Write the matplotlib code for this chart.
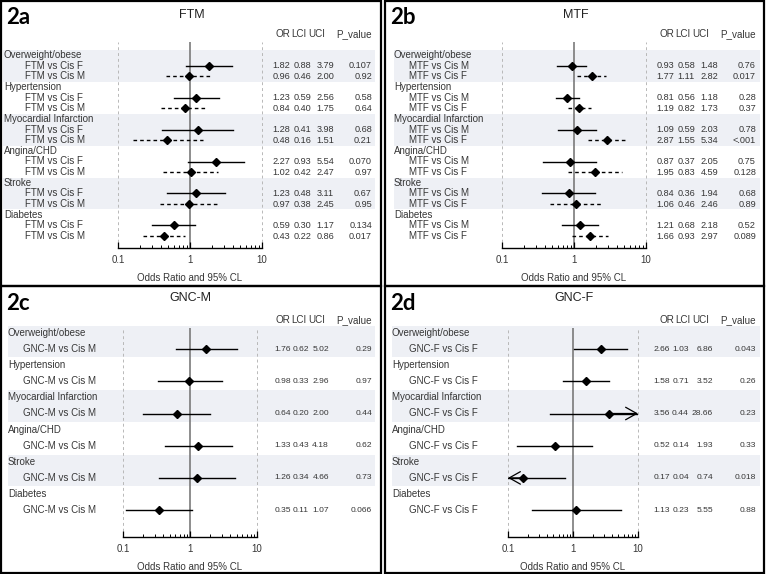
import matplotlib
matplotlib.use('Agg')
from matplotlib import pyplot as plt
from matplotlib import transforms as mtransforms
from matplotlib.patches import Rectangle

W, H = 768, 574
plt.rcParams['font.family'] = ['Liberation Sans', 'DejaVu Sans']

groups = ['Overweight/obese', 'Hypertension', 'Myocardial Infarction',
          'Angina/CHD', 'Stroke', 'Diabetes']
col_names = ['OR', 'LCI', 'UCI', 'P_value']

# 2a FTM (two comparisons per group, group-major order)
ftm_rows = ['FTM vs Cis F', 'FTM vs Cis M']
ftm_or = [1.82, 0.96, 1.23, 0.84, 1.28, 0.48, 2.27, 1.02, 1.23, 0.97, 0.59, 0.43]
ftm_lci = [0.88, 0.46, 0.59, 0.40, 0.41, 0.16, 0.93, 0.42, 0.48, 0.38, 0.30, 0.22]
ftm_uci = [3.79, 2.00, 2.56, 1.75, 3.98, 1.51, 5.54, 2.47, 3.11, 2.45, 1.17, 0.86]
ftm_p = ['0.107', '0.92', '0.58', '0.64', '0.68', '0.21',
         '0.070', '0.97', '0.67', '0.95', '0.134', '0.017']

# 2b MTF
mtf_rows = ['MTF vs Cis M', 'MTF vs Cis F']
mtf_or = [0.93, 1.77, 0.81, 1.19, 1.09, 2.87, 0.87, 1.95, 0.84, 1.06, 1.21, 1.66]
mtf_lci = [0.58, 1.11, 0.56, 0.82, 0.59, 1.55, 0.37, 0.83, 0.36, 0.46, 0.68, 0.93]
mtf_uci = [1.48, 2.82, 1.18, 1.73, 2.03, 5.34, 2.05, 4.59, 1.94, 2.46, 2.18, 2.97]
mtf_p = ['0.76', '0.017', '0.28', '0.37', '0.78', '<.001',
         '0.75', '0.128', '0.68', '0.89', '0.52', '0.089']

# 2c GNC-M
gncm_rows = ['GNC-M vs Cis M']
gncm_or = [1.76, 0.98, 0.64, 1.33, 1.26, 0.35]
gncm_lci = [0.62, 0.33, 0.20, 0.43, 0.34, 0.11]
gncm_uci = [5.02, 2.96, 2.00, 4.18, 4.66, 1.07]
gncm_p = ['0.29', '0.97', '0.44', '0.62', '0.73', '0.066']

# 2d GNC-F
gncf_rows = ['GNC-F vs Cis F']
gncf_or = [2.66, 1.58, 3.56, 0.52, 0.17, 1.13]
gncf_lci = [1.03, 0.71, 0.44, 0.14, 0.04, 0.23]
gncf_uci = [6.86, 3.52, 28.66, 1.93, 0.74, 5.55]
gncf_p = ['0.043', '0.26', '0.23', '0.33', '0.018', '0.88']

TXT = '#363636'
FS = 7
XMIN, XMAX = 0.1, 10

fig = plt.figure(figsize=(W / 100, H / 100), dpi=100)


def fig_text(px, py, s, **kw):
    fig.text(px / W, 1 - py / H, s, **kw)


def draw_panel(tag, title, rows, ors, lcis, ucis, ps, ox, oy, lay):
    # panel frame
    x1, y1, x2, y2 = lay['frame']
    fig.add_artist(Rectangle(((ox + x1) / W, 1 - (oy + y2) / H), (x2 - x1) / W, (y2 - y1) / H,
                             transform=fig.transFigure, fill=False, ec='black', lw=1.6))
    fig_text(ox + 6, oy + lay['tag_y'], tag, family='Lato', weight='bold', fontsize=16,
             va='center', ha='left', color='black')
    fig_text(ox + lay['title_x'], oy + lay['title_y'], title, fontsize=9, ha='center',
             va='center', color='#222222')
    for name, hx in zip(col_names, lay['head_x']):
        fig_text(ox + hx, oy + lay['head_y'], name, fontsize=7.1, ha='right', va='center', color=TXT)

    axl, axr, axt, axb = lay['ax']
    ax = fig.add_axes([(ox + axl) / W, 1 - (oy + axb) / H, (axr - axl) / W, (axb - axt) / H])
    ax.patch.set_alpha(0)
    ax.set_xscale('log')
    ax.set_xlim(XMIN, XMAX)
    r0, dr = lay['row0'], lay['dr']
    ax.set_ylim((axb - r0) / dr, (axt - r0) / dr)
    trans = mtransforms.blended_transform_factory(fig.transFigure, ax.transData)

    n = len(rows)
    sx1, sx2 = lay['shade_x']
    for g, gname in enumerate(groups):
        base = g * (n + 1)
        if g % 2 == 0:
            ax.add_patch(Rectangle(((ox + sx1) / W, base - 0.45), (sx2 - sx1) / W, n + 0.95,
                                   transform=trans, color='#eef0f5', lw=0, zorder=0, clip_on=False))
        ax.text((ox + lay['grp_x']) / W, base, gname, transform=trans, fontsize=FS,
                va='center', ha='left', color=TXT)
        for k, rname in enumerate(rows):
            i = g * n + k
            y = base + 1 + k
            ax.text((ox + lay['sub_x']) / W, y, rname, transform=trans, fontsize=FS,
                    va='center', ha='left', color=TXT)
            vals = [f'{ors[i]:.2f}', f'{lcis[i]:.2f}', f'{ucis[i]:.2f}', ps[i]]
            for v, cx in zip(vals, lay['col_x']):
                ax.text((ox + cx) / W, y, v, transform=trans, fontsize=lay['num_fs'],
                        va='center', ha='right', color=TXT)
            ls = (0, (2.6, 2.2)) if k == 1 else '-'
            lo, hi = max(lcis[i], XMIN), min(ucis[i], XMAX)
            ax.plot([lo, hi], [y, y], color='black', lw=1.0, ls=ls, zorder=2)
            arrow = dict(arrowstyle='->,head_length=0.8,head_width=0.45', color='black',
                         lw=0.9, shrinkA=0, shrinkB=0)
            if ucis[i] > XMAX:
                ax.annotate('', xy=(XMAX, y), xytext=(ors[i], y), arrowprops=arrow, zorder=2)
            if lcis[i] < XMIN:
                ax.annotate('', xy=(XMIN, y), xytext=(ors[i], y), arrowprops=arrow, zorder=2)
            ax.plot([ors[i]], [y], marker='D', color='black', ms=4.1, zorder=3)

    ax.axvline(1, color='#7a7a7a', lw=1.2, zorder=1)
    for xv in (XMIN, XMAX):
        ax.axvline(xv, color='#b8b8b8', lw=0.7, ls=(0, (3, 3)), zorder=1, clip_on=False)

    for s in ('top', 'left', 'right'):
        ax.spines[s].set_visible(False)
    ax.spines['bottom'].set_linewidth(1.0)
    ax.set_yticks([])
    ax.set_xticks([0.1, 1, 10])
    ax.set_xticklabels(['0.1', '1', '10'])
    ax.tick_params(axis='x', which='major', direction='in', length=4.5, width=0.9,
                   pad=5, labelsize=FS, labelcolor=TXT)
    ax.tick_params(axis='x', which='minor', direction='in', length=2.5, width=0.7)
    ax.set_xlabel('Odds Ratio and 95% CL', fontsize=FS, color=TXT, labelpad=6)


top_lay = dict(frame=(1, 1, 381, 286), tag_y=17, title_x=192, title_y=15,
               head_y=34, head_x=[290, 307, 325, 372],
               ax=(118, 262, 42, 248), row0=55, dr=10.65,
               grp_x=4, sub_x=25, shade_x=(3, 375), col_x=[290, 311, 334, 372], num_fs=6.6)
top_lay_b = dict(top_lay, frame=(1, 1, 380, 286), title_x=192, grp_x=10, shade_x=(10, 376))
bot_lay = dict(frame=(1, 0, 381, 287), tag_y=17, title_x=190, title_y=12,
               head_y=34, head_x=[290, 307, 325, 372],
               ax=(123, 257, 42, 251), row0=47, dr=16.1,
               grp_x=8, sub_x=23, shade_x=(8, 375), col_x=[291, 309, 329, 372], num_fs=6.1)
bot_lay_d = dict(bot_lay, frame=(1, 0, 380, 287), ax=(124, 254, 42, 251),
                 sub_x=25, shade_x=(8, 376), col_x=[286, 305, 329, 372])

draw_panel('2a', 'FTM', ftm_rows, ftm_or, ftm_lci, ftm_uci, ftm_p, 0, 0, top_lay)
draw_panel('2b', 'MTF', mtf_rows, mtf_or, mtf_lci, mtf_uci, mtf_p, 384, 0, top_lay_b)
draw_panel('2c', 'GNC-M', gncm_rows, gncm_or, gncm_lci, gncm_uci, gncm_p, 0, 286, bot_lay)
draw_panel('2d', 'GNC-F', gncf_rows, gncf_or, gncf_lci, gncf_uci, gncf_p, 384, 286, bot_lay_d)

fig.savefig('out.png', dpi=100, facecolor='white')
